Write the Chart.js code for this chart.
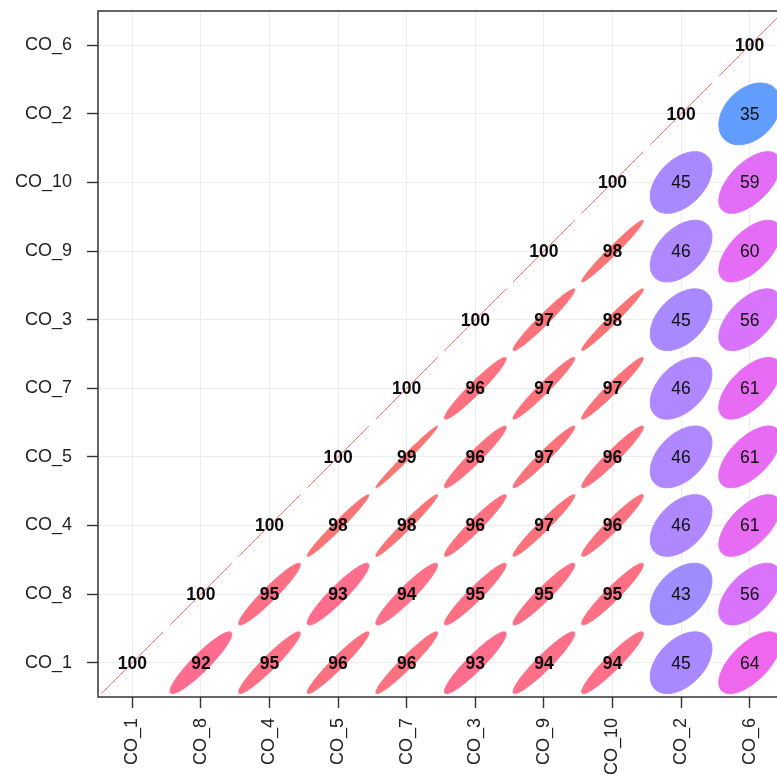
<!DOCTYPE html>
<html>
<head>
<meta charset="utf-8">
<script src="https://cdn.jsdelivr.net/npm/chart.js@4.4.1/dist/chart.umd.min.js"></script>
<style>
  html, body { margin: 0; padding: 0; background: #ffffff; overflow: hidden; }
  #wrap { width: 800px; height: 782px; }
</style>
</head>
<body>
<div id="wrap"><canvas id="corr" width="800" height="782"></canvas></div>
<script>
// Variable order used on both axes (x left to right, y bottom to top)
const categories = ['CO_1', 'CO_8', 'CO_4', 'CO_5', 'CO_7', 'CO_3', 'CO_9', 'CO_10', 'CO_2', 'CO_6'];

// Correlations (x100) of each variable with itself and the variables to its right
const rowCO_1  = [100, 92, 95, 96, 96, 93, 94, 94, 45, 64];
const rowCO_8  = [100, 95, 93, 94, 95, 95, 95, 43, 56];
const rowCO_4  = [100, 98, 98, 96, 97, 96, 46, 61];
const rowCO_5  = [100, 99, 96, 97, 96, 46, 61];
const rowCO_7  = [100, 96, 97, 97, 46, 61];
const rowCO_3  = [100, 97, 98, 45, 56];
const rowCO_9  = [100, 98, 46, 60];
const rowCO_10 = [100, 45, 59];
const rowCO_2  = [100, 35];
const rowCO_6  = [100];

const rows = [rowCO_1, rowCO_8, rowCO_4, rowCO_5, rowCO_7, rowCO_3, rowCO_9, rowCO_10, rowCO_2, rowCO_6];

// One point per upper-triangle cell: x = column position, y = row position
const cells = [];
rows.forEach((row, i) => {
  row.forEach((v, k) => cells.push({ x: i + k + 1, y: i + 1, v: v }));
});

// HCL (polar Luv) -> sRGB hex
function hcl(h, c, l) {
  const hr = h * Math.PI / 180;
  const U = c * Math.cos(hr), V = c * Math.sin(hr);
  const Xn = 95.047, Yn = 100, Zn = 108.883;
  const Y = Yn * (l > 8 ? Math.pow((l + 16) / 116, 3) : l / 903.3);
  const den = Xn + 15 * Yn + 3 * Zn;
  const un = 4 * Xn / den, vn = 9 * Yn / den;
  const u = U / (13 * l) + un, v = V / (13 * l) + vn;
  const X = Y * 9 * u / (4 * v);
  const Z = Y * (12 - 3 * u - 20 * v) / (4 * v);
  const x = X / 100, y = Y / 100, z = Z / 100;
  const lin = [
    3.2404542 * x - 1.5371385 * y - 0.4985314 * z,
    -0.9692660 * x + 1.8760108 * y + 0.0415560 * z,
    0.0556434 * x - 0.2040259 * y + 1.0572252 * z
  ];
  return '#' + lin.map(t => {
    let g = t <= 0.0031308 ? 12.92 * t : 1.055 * Math.pow(t, 1 / 2.4) - 0.055;
    g = Math.max(0, Math.min(1, g));
    return Math.round(g * 255).toString(16).padStart(2, '0');
  }).join('');
}

// Colour scale: hue runs from blue at the weakest correlation to red at 1
const allValues = rows.flat();
const vMin = Math.min(...allValues), vMax = Math.max(...allValues);
function colourFor(v) {
  const f = (v - vMin) / (vMax - vMin);
  return hcl(255 + 120 * f, 100, 65);
}

const FONT = "'Liberation Sans', Arial, sans-serif";

const ellipsePlugin = {
  id: 'corrEllipses',
  afterDatasetsDraw(chart) {
    const { ctx, scales: { x, y } } = chart;
    const pts = chart.data.datasets[0].data;
    const half = 0.45; // half-width of each ellipse's bounding box, in axis units
    ctx.save();
    pts.forEach(p => {
      const r = p.v / 100;
      const cx = x.getPixelForValue(p.x), cy = y.getPixelForValue(p.y);
      const sx = Math.abs(x.getPixelForValue(p.x + half) - cx);
      const sy = Math.abs(y.getPixelForValue(p.y + half) - cy);
      const d = Math.acos(Math.max(-1, Math.min(1, r)));
      ctx.beginPath();
      for (let k = 0; k <= 120; k++) {
        const t = k / 120 * 2 * Math.PI;
        const px = cx + Math.cos(t + d / 2) * sx;
        const py = cy - Math.cos(t - d / 2) * sy;
        if (k === 0) ctx.moveTo(px, py); else ctx.lineTo(px, py);
      }
      ctx.closePath();
      const col = colourFor(p.v);
      ctx.fillStyle = col;
      ctx.strokeStyle = col;
      ctx.lineWidth = 1;
      ctx.fill();
      ctx.stroke();
    });
    ctx.textAlign = 'center';
    ctx.textBaseline = 'middle';
    ctx.fillStyle = '#0d0d0d';
    pts.forEach(p => {
      const cx = x.getPixelForValue(p.x), cy = y.getPixelForValue(p.y);
      ctx.font = (p.v >= 90 ? 'bold ' : '') + '17.5px ' + FONT;
      ctx.fillText(String(p.v), cx, cy + 1);
    });
    ctx.restore();
  },
  afterDraw(chart) {
    const { ctx, chartArea: a } = chart;
    ctx.save();
    ctx.strokeStyle = '#333333';
    ctx.lineWidth = 1.5;
    ctx.strokeRect(a.left, a.top, a.right - a.left, a.bottom - a.top);
    ctx.restore();
  }
};

const tickValues = categories.map((c, i) => i + 1);

function axis(width, height, padding) {
  return {
    type: 'linear',
    min: 0.5,
    max: categories.length + 0.5,
    afterBuildTicks: s => { s.ticks = tickValues.map(v => ({ value: v })); },
    afterFit: s => {
      if (width !== null) s.width = width;
      if (height !== null) s.height = height;
      s.paddingTop = 0;
      s.paddingBottom = 0;
      s.paddingLeft = 0;
      s.paddingRight = 0;
    },
    grid: {
      color: '#ECECEC',
      lineWidth: 1,
      drawTicks: true,
      tickLength: 11,
      tickColor: '#333333',
      tickWidth: 1.4
    },
    border: { display: false },
    ticks: {
      autoSkip: false,
      padding: padding,
      color: '#222222',
      font: { family: FONT, size: 18 },
      callback: v => categories[Math.round(v) - 1] || ''
    }
  };
}

const xAxis = axis(null, 85, 10);
xAxis.ticks.minRotation = 90;
xAxis.ticks.maxRotation = 90;
const yAxis = axis(98, null, 15);

new Chart(document.getElementById('corr'), {
  type: 'scatter',
  data: {
    datasets: [{
      data: cells,
      pointRadius: 0,
      pointHoverRadius: 0,
      showLine: false
    }]
  },
  options: {
    responsive: false,
    animation: false,
    devicePixelRatio: 1,
    layout: { padding: { top: 11, right: 16, left: 0, bottom: 0 } },
    plugins: { legend: { display: false }, tooltip: { enabled: false } },
    scales: { x: xAxis, y: yAxis }
  },
  plugins: [ellipsePlugin]
});
</script>
</body>
</html>
